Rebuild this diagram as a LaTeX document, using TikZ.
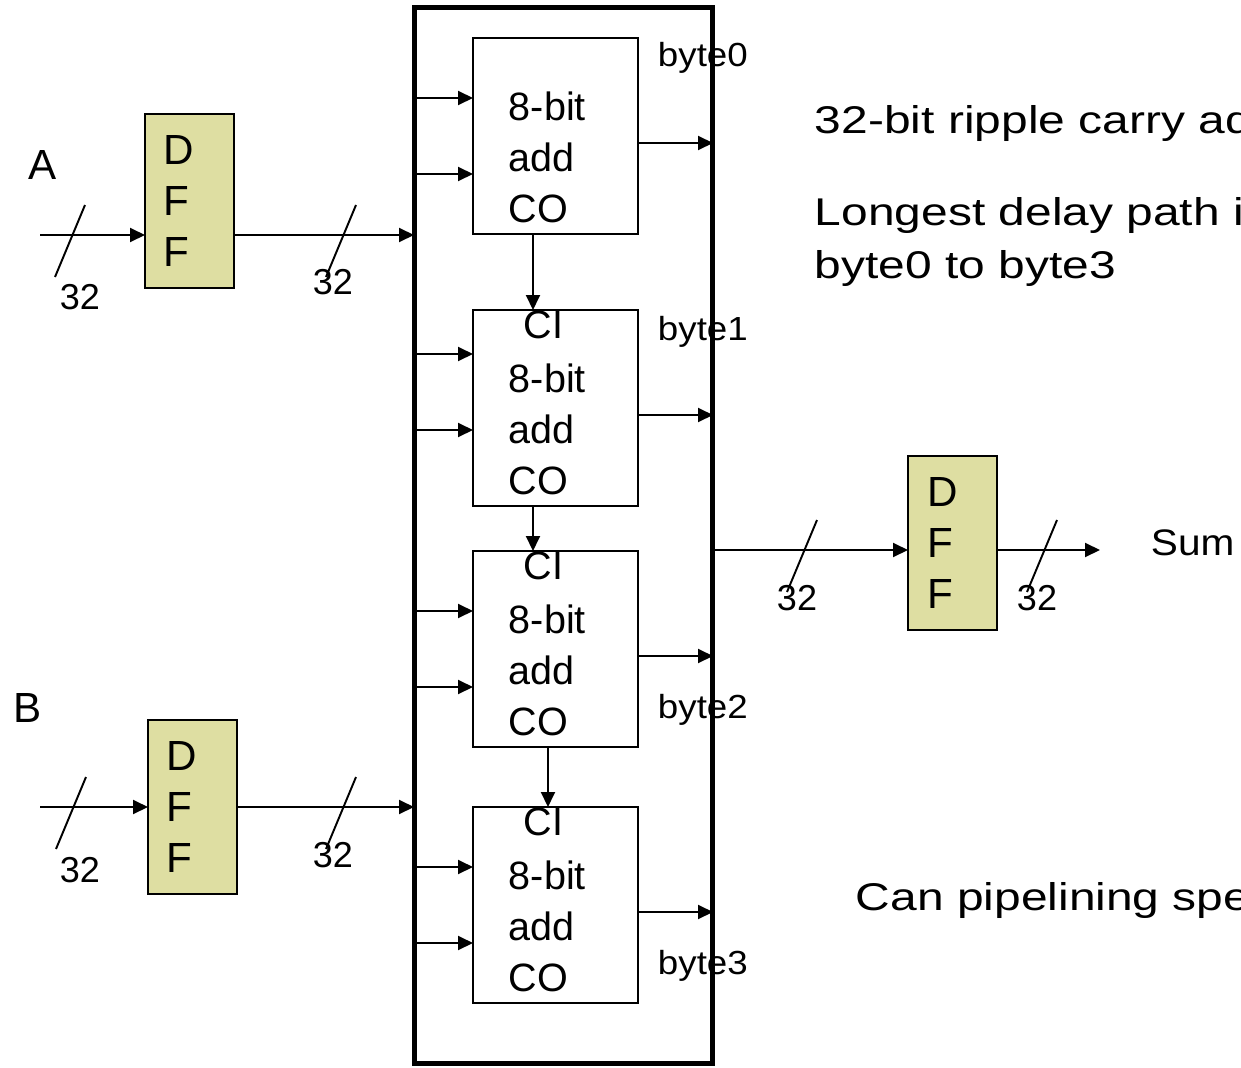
\documentclass[tikz,border=0pt]{standalone}
\usepackage{fontspec}
\setmainfont{Liberation Sans}
\newfontfamily\widesans[FakeStretch=1.24]{Liberation Sans}
\newfontfamily\boxsans[FakeStretch=1.1]{Liberation Sans}
\definecolor{dffkhaki}{RGB}{222,222,162}
\usetikzlibrary{positioning,calc,arrows.meta}

\begin{document}
\begin{tikzpicture}[x=0.02cm, y=-0.02cm, line width=1.1pt, >={Triangle[length=3mm, width=2.8mm]},
  sig/.style={->},
  adder/.style={rectangle, draw, inner sep=0pt, outer sep=0pt, minimum width=3.3cm, minimum height=3.92cm},
  dff/.style={rectangle, draw, fill=dffkhaki, outer sep=0pt, inner ysep=0pt, inner xsep=0.38cm, text width=1.02cm, minimum height=3.48cm, align=left, font=\fontsize{24}{29}\selectfont},
  addtext/.style={align=left, anchor=base west, inner sep=0pt, font=\fontsize{22.5}{29}\selectfont},
  bytelbl/.style={anchor=base west, inner sep=0pt, font=\boxsans\fontsize{19}{23}\selectfont},
  buslbl/.style={inner sep=0pt, font=\fontsize{20.5}{24}\selectfont},
  note/.style={anchor=base west, align=left, inner sep=0pt, font=\widesans\fontsize{22}{29.6}\selectfont}]

\useasboundingbox (0,0) rectangle (1241,1068);
\clip (0,0) rectangle (1241,1068);

% the 32-bit adder, four 8-bit blocks inside
\node[rectangle, draw, line width=0.1cm, inner sep=0pt, outer sep=0pt, minimum width=5.98cm, minimum height=21.12cm, anchor=north west] (rca) at (414,8) {};

\foreach \i/\ytop/\yin/\lbl/\nm in {1/38/98/67/byte0, 2/310/354/340/byte1, 3/551/611/718/byte2, 4/807/867/974/byte3}{
  \node[adder, anchor=north west] (add\i) at (473,\ytop) {};
  \coordinate (ina\i) at (414,\yin);
  \coordinate (inb\i) at (414,\yin+76);
  \coordinate (out\i) at (713,\ytop+105);
  \draw[sig] (ina\i) -- (ina\i -| add\i.west);
  \draw[sig] (inb\i) -- (inb\i -| add\i.west);
  \draw[sig] (out\i -| add\i.east) -- (out\i);
  \node[addtext] (txt\i) at ($(add\i.north west)+(35,184)$) {8-bit\\add\\CO};
  \node[bytelbl] (\nm) at (657,\lbl) {\nm};
}
\foreach \i in {2,3,4}
  \node[addtext] (ci\i) at ($(add\i.north west)+(50,28)$) {CI};

% carry chain
\draw[sig] ([xshift=-0.45cm]add1.south) -- ([xshift=-0.45cm]add2.north);
\draw[sig] ([xshift=-0.45cm]add2.south) -- ([xshift=-0.45cm]add3.north);
\draw[sig] ([xshift=-0.15cm]add3.south) -- ([xshift=-0.15cm]add4.north);

% registers
\node[dff, anchor=north west] (dffa) at (145,114) {D\\F\\F};
\node[dff, anchor=north west] (dffb) at (148,720) {D\\F\\F};
\node[dff, anchor=north west] (dffs) at (908,456) {D\\F\\F};

\node[font=\fontsize{24}{29}\selectfont] (lblA) at (43,165) {A};
\node[font=\fontsize{24}{29}\selectfont] (lblB) at (28,708) {B};

\coordinate (ain) at (40,235);
\coordinate (bin) at (40,807);
\coordinate (sout) at (1100,550);
\draw[sig] (ain) -- (ain -| dffa.west);
\draw[sig] (ain -| dffa.east) -- (ain -| rca.west);
\draw[sig] (bin) -- (bin -| dffb.west);
\draw[sig] (bin -| dffb.east) -- (bin -| rca.west);
\draw[sig] (sout -| rca.east) -- (sout -| dffs.west);
\draw[sig] (sout -| dffs.east) -- (sout);
\node[anchor=base west, inner sep=0pt, font=\boxsans\fontsize{21}{24}\selectfont] (sum) at (1150,555) {Sum};

% bus width marks
\foreach \sx/\sy/\lx/\ly [count=\k] in {72/235/80/297, 343/235/333/282, 73/807/80/870, 343/807/333/855, 804/550/797/598, 1044/550/1037/598}{
  \coordinate (bus\k) at (\sx,\sy);
  \draw ($(bus\k)+(-17,42)$) -- ($(bus\k)+(13,-30)$);
  \node[buslbl] (w\k) at (\lx,\ly) {32};
}

\node[note] (title) at (814,133) {32-bit ripple carry ad};
\node[note] (delay) at (814,278) {Longest delay path i\\byte0 to byte3};
\node[note] (pipe) at (855,910) {Can pipelining spe};
\end{tikzpicture}
\end{document}
